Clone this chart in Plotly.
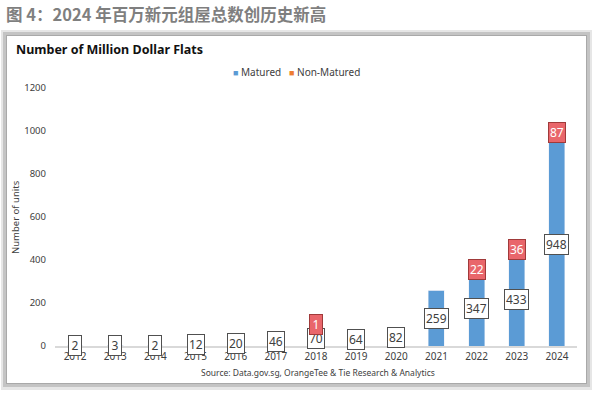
import plotly.graph_objects as go

years = ["2012", "2013", "2014", "2015", "2016", "2017", "2018",
         "2019", "2020", "2021", "2022", "2023", "2024"]
matured = [2, 3, 2, 12, 20, 46, 70, 64, 82, 259, 347, 433, 948]
non_matured = [0, 0, 0, 0, 0, 0, 1, 0, 0, 0, 22, 36, 87]
y_ticks = [0, 200, 400, 600, 800, 1000, 1200]
series_names = ["Matured", "Non-Matured"]

W, H = 596, 399
L, R, T, B = 55, 19, 88, 53
PW = W - L - R
PH = H - T - B

def px(x):
    return (x - L) / PW

def py(y):
    return (H - B - y) / PH

FONT = "Noto Sans"
BLUE = "#5B9BD5"
ORANGE = "#ED7D31"
RED = "#E9666B"

fig = go.Figure()
fig.add_trace(go.Bar(x=years, y=matured, name=series_names[0], marker_color=BLUE,
                     showlegend=False))
fig.add_trace(go.Bar(x=years, y=non_matured, name=series_names[1], marker_color=ORANGE,
                     showlegend=False))

def box_width(v):
    return 10 if len(str(v)) == 1 else None

annotations = []
for i, (yr, m, n) in enumerate(zip(years, matured, non_matured)):
    annotations.append(dict(
        x=i, y=m / 2, xref="x", yref="y", text=str(m), showarrow=False,
        font=dict(family=FONT, size=12, color="#404040"), width=box_width(m),
        bgcolor="white", bordercolor="#505050", borderwidth=1, borderpad=1,
    ))
    if n > 0:
        annotations.append(dict(
            x=i, y=m + n / 2, xref="x", yref="y", text=str(n), showarrow=False,
            font=dict(family=FONT, size=12, color="white"), width=box_width(n),
            bgcolor=RED, bordercolor="#A03A3A", borderwidth=1, borderpad=1,
            yshift=6 if n < 5 else 0,
        ))

# legend drawn as text with small coloured squares
for name, color, x0 in zip(series_names, [BLUE, ORANGE], [231, 287]):
    annotations.append(dict(
        x=px(x0), y=py(72), xref="paper", yref="paper", xanchor="left", yanchor="middle",
        text=f"<span style='color:{color};font-size:9px'>■</span> {name}", showarrow=False,
        font=dict(family=FONT, size=10, color="#404040"),
    ))

annotations += [
    dict(x=px(4), y=py(14), xref="paper", yref="paper", xanchor="left", yanchor="middle",
         text="<b>图 4：2024 年百万新元组屋总数创历史新高</b>", showarrow=False,
         font=dict(family="Noto Sans CJK SC", size=16.5, color="#7F7F7F")),
    dict(x=px(14), y=py(50), xref="paper", yref="paper", xanchor="left", yanchor="middle",
         text="<b>Number of Million Dollar Flats</b>", showarrow=False,
         font=dict(family=FONT, size=12.5, color="#111111")),
    dict(x=px(15), y=py(217), xref="paper", yref="paper", xanchor="center", yanchor="middle",
         text="Number of units", textangle=-90, showarrow=False,
         font=dict(family=FONT, size=9.5, color="#404040")),
    dict(x=px(318), y=py(372), xref="paper", yref="paper", xanchor="center", yanchor="middle",
         text="Source: Data.gov.sg, OrangeTee & Tie Research & Analytics", showarrow=False,
         font=dict(family=FONT, size=8.5, color="#404040")),
]

shapes = [
    dict(type="rect", xref="paper", yref="paper", x0=px(1), x1=px(592), y0=py(30), y1=py(390),
         fillcolor="#e6e6e6", line_width=0, layer="below"),
    dict(type="rect", xref="paper", yref="paper", x0=px(3), x1=px(590), y0=py(32), y1=py(387),
         fillcolor="#c4c4c4", line_width=0, layer="below"),
    dict(type="rect", xref="paper", yref="paper", x0=px(6), x1=px(587), y0=py(35), y1=py(384),
         fillcolor="#a9a9a9", line_width=0, layer="below"),
    dict(type="rect", xref="paper", yref="paper", x0=px(7), x1=px(586), y0=py(36), y1=py(383),
         fillcolor="white", line_width=0, layer="below"),
]

fig.update_layout(
    width=W, height=H,
    margin=dict(l=L, r=R, t=T, b=B, autoexpand=False),
    barmode="stack", bargap=0.6,
    paper_bgcolor="white", plot_bgcolor="rgba(0,0,0,0)",
    font=dict(family=FONT, size=10, color="#404040"),
    showlegend=False,
    xaxis=dict(type="category", range=[-0.5, len(years) - 0.5], showgrid=False,
               showline=True, linecolor="#D9D9D9", linewidth=1.5, ticks="",
               tickfont=dict(size=10, color="#404040"), ticklabelstandoff=0),
    yaxis=dict(range=[0, 1200], tickvals=y_ticks, showgrid=False, zeroline=False,
               showline=False, ticks="", tickfont=dict(size=9.5, color="#404040"),
               ticklabelstandoff=8),
    annotations=annotations,
    shapes=shapes,
)

fig.write_html("out.html", config={"displayModeBar": False},
               post_script="document.body.style.margin='0';")
